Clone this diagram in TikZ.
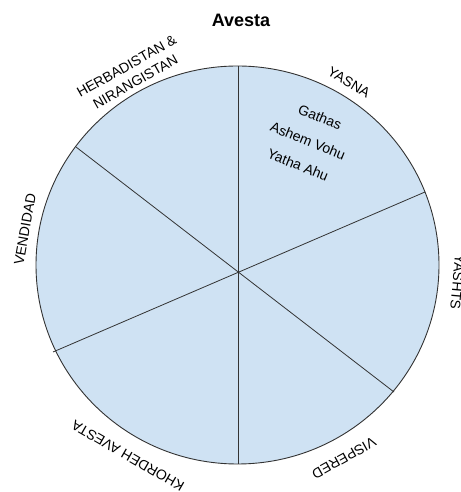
\documentclass[tikz,border=0pt]{standalone}
\usepackage{fontspec}
\setmainfont{Liberation Sans}
\usepackage{tikz}
\definecolor{pielight}{RGB}{207, 226, 243}
\definecolor{pieline}{RGB}{51, 51, 51}

\begin{document}
\begin{tikzpicture}[x=1pt, y=1pt,
    rimlabel/.style={font=\fontsize{14}{18}\selectfont, inner sep=0pt, align=center},
    spoke/.style={pieline, line width=0.8pt}]
        \useasboundingbox (0,0) rectangle (460,492);
        \coordinate (c) at (237.5,227);

        % Disc and spokes
        \draw[pieline, fill=pielight, line width=0.9pt] (c) ellipse (201.5 and 199);
        \draw[spoke] (238,426) -- (238,28);
        \draw[spoke] (76,345) -- (394,100);
        \draw[spoke] (425,300) -- (53,140);

        % Title
        \node[font=\fontsize{18}{22}\selectfont\bfseries] (title) at (241,472) {Avesta};

        % Books round the rim
        \node[rimlabel, rotate=-31] (yasna) at (349,410) {YASNA};
        \node[rimlabel, rotate=29.5] (herbad) at (131,418) {HERBADISTAN \&\\NIRANGISTAN};
        \node[rimlabel, rotate=80] (vendidad) at (25,263) {VENDIDAD};
        \node[rimlabel, rotate=-95] (yashts) at (457.5,210) {YASHTS};
        \node[rimlabel, rotate=150] (khordeh) at (128,36) {KHORDEH AVESTA};
        \node[rimlabel, rotate=209] (vispered) at (344,34) {VISPERED};

        % Parts of the Yasna
        \node[rimlabel, rotate=-22] (gathas) at (320,375) {Gathas};
        \node[rimlabel, rotate=-22] (ashem) at (308,351) {Ashem Vohu};
        \node[rimlabel, rotate=-22] (yatha) at (298,327) {Yatha Ahu};
\end{tikzpicture}
\end{document}
